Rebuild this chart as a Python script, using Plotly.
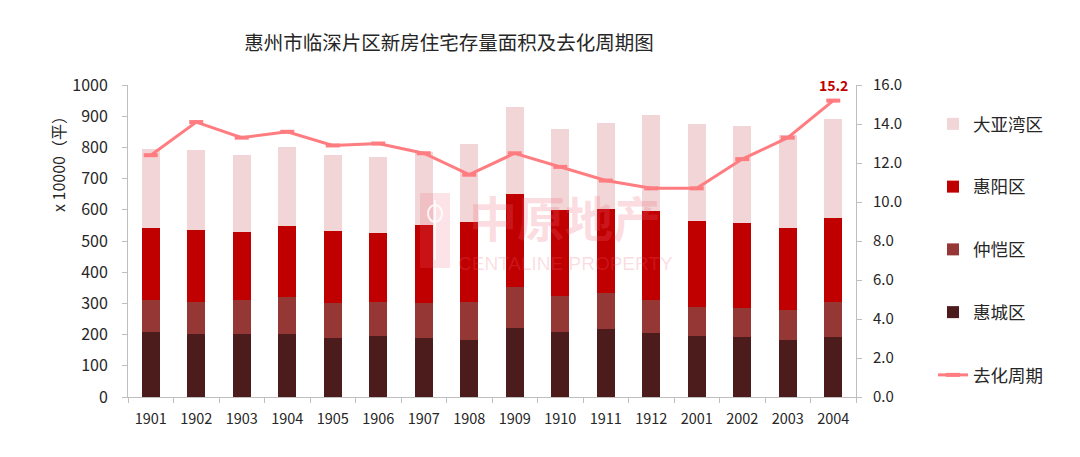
import plotly.graph_objects as go

periods = ["1901", "1902", "1903", "1904", "1905", "1906", "1907", "1908",
           "1909", "1910", "1911", "1912", "2001", "2002", "2003", "2004"]
huicheng = [207, 202, 202, 202, 190, 196, 190, 183, 220, 207, 218, 205, 196, 192, 183, 192]
zhongkai = [104, 103, 109, 118, 112, 109, 112, 122, 133, 117, 115, 106, 93, 93, 96, 113]
huiyang = [231, 231, 218, 229, 230, 222, 249, 256, 299, 275, 269, 285, 275, 272, 263, 270]
dayawan = [253, 257, 247, 253, 244, 242, 234, 250, 278, 259, 276, 308, 311, 312, 298, 316]
cycle = [12.4, 14.1, 13.3, 13.6, 12.9, 13.0, 12.5, 11.4, 12.5, 11.8, 11.1, 10.7, 10.7, 12.2, 13.3, 15.2]

left_ticks = [0, 100, 200, 300, 400, 500, 600, 700, 800, 900, 1000]
right_ticks = [0, 2, 4, 6, 8, 10, 12, 14, 16]

FONT = "Microsoft YaHei, Noto Sans CJK SC, sans-serif"
TXT = "#262626"
WM = "rgba(240,100,120,0.22)"

L, R, T, B = 128, 856, 85, 397  # plot area in pixels


def px(x):
    return (x - L) / (R - L)


def py(y):
    return (B - y) / (B - T)


fig = go.Figure()
bar_specs = [
    ("惠城区", huicheng, "#4C1B1B", 4),
    ("仲恺区", zhongkai, "#953735", 3),
    ("惠阳区", huiyang, "#C00000", 2),
    ("大亚湾区", dayawan, "#F2D5D6", 1),
]
for name, vals, color, rank in bar_specs:
    fig.add_trace(go.Bar(
        x=periods, y=vals, name=name, marker=dict(color=color, line=dict(width=0)),
        legendrank=rank, legendgroup=name, hoverinfo="y+name",
    ))

fig.add_trace(go.Scatter(
    x=periods, y=cycle, name="去化周期", yaxis="y2", mode="lines+markers",
    line=dict(color="#FF7C80", width=3),
    marker=dict(symbol="line-ew", size=10, line=dict(color="#FF7C80", width=4)),
    legendrank=5, legendgroup="去化周期",
))

# label for the last point (category index of the last period)
fig.add_annotation(x=len(periods) - 1, y=cycle[-1], xref="x", yref="y2", yshift=16,
                   xanchor="center", yanchor="middle",
                   text=f"<b>{cycle[-1]:.1f}</b>", showarrow=False,
                   font=dict(color="#C00000", size=14, family=FONT))

# y-axis title (placed near the top as in the original)
fig.add_annotation(text="x 10000（平）", xref="paper", yref="paper",
                   x=px(58), y=py(160), xanchor="center", yanchor="middle",
                   textangle=-90, showarrow=False,
                   font=dict(size=16, color=TXT, family=FONT))

# watermark
fig.add_annotation(text="<b>中原地产</b>", xref="paper", yref="paper",
                   x=px(565), y=py(216), xanchor="center", yanchor="middle",
                   showarrow=False, font=dict(size=48, color=WM, family=FONT))
fig.add_annotation(text="CENTALINE PROPERTY", xref="paper", yref="paper",
                   x=px(565), y=py(263), xanchor="center", yanchor="middle",
                   showarrow=False,
                   font=dict(size=19, color=WM, family="Arial, Liberation Sans"))
fig.add_shape(type="rect", xref="paper", yref="paper",
              x0=px(420), x1=px(450), y0=py(268), y1=py(193),
              fillcolor="rgba(240,100,120,0.18)", line=dict(width=0))
fig.add_shape(type="circle", xref="paper", yref="paper",
              x0=px(428), x1=px(442), y0=py(222), y1=py(205),
              fillcolor="rgba(0,0,0,0)", line=dict(width=2, color="rgba(255,255,255,0.8)"))
fig.add_shape(type="line", xref="paper", yref="paper",
              x0=px(435), x1=px(435), y0=py(260), y1=py(200),
              line=dict(width=2, color="rgba(255,255,255,0.8)"))

fig.update_layout(
    width=1080, height=457,
    margin=dict(l=L, r=1080 - R, t=T, b=457 - B),
    paper_bgcolor="white", plot_bgcolor="white",
    barmode="stack", bargap=0.6,
    font=dict(family=FONT, color=TXT, size=14),
    title=dict(text="惠州市临深片区新房住宅存量面积及去化周期图",
               x=449 / 1080, xanchor="center", y=1 - 43 / 457, yanchor="middle",
               font=dict(size=19.5, color=TXT, family=FONT)),
    xaxis=dict(type="category", range=[-0.5, 15.5], showline=True, linecolor="#BFBFBF",
               linewidth=1, ticks="outside", tickson="boundaries", ticklen=5,
               tickcolor="#BFBFBF", tickfont=dict(size=14.5, color=TXT), showgrid=False,
               ticklabelstandoff=9),
    yaxis=dict(range=[0, 1000], tickvals=left_ticks, showline=True, linecolor="#BFBFBF",
               ticks="outside", ticklen=5, tickcolor="#BFBFBF", showgrid=False,
               zeroline=False, tickfont=dict(size=16, color=TXT), ticklabelstandoff=11),
    yaxis2=dict(range=[0, 16], tickvals=right_ticks, ticktext=[f"{v:.1f}" for v in right_ticks],
                overlaying="y", side="right", showline=True, linecolor="#BFBFBF",
                ticks="outside", ticklen=5, tickcolor="#BFBFBF", showgrid=False,
                zeroline=False, tickfont=dict(size=15, color=TXT), ticklabelstandoff=8),
    legend=dict(x=933 / 1080, xanchor="left", y=1 - 106 / 457, yanchor="top",
                xref="container", yref="container", maxheight=440,
                traceorder="grouped", tracegroupgap=37, itemwidth=30,
                font=dict(size=17.5, color=TXT), bgcolor="rgba(0,0,0,0)"),
    showlegend=True,
)

fig.write_html("out.html", config={"displayModeBar": False},
               post_script="document.body.style.margin='0';")
